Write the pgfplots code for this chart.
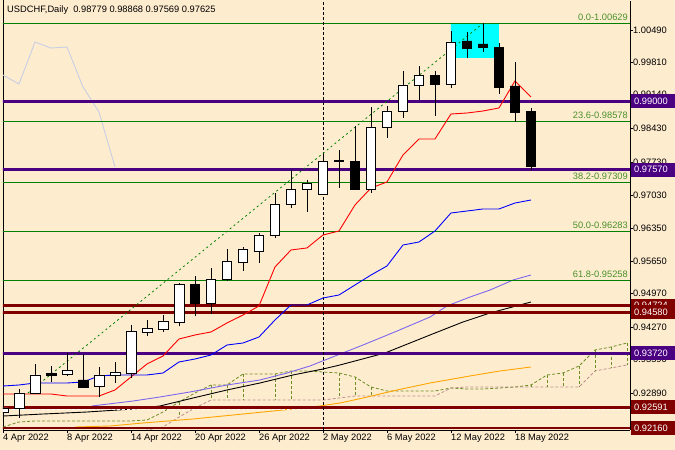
\documentclass[border=0pt]{standalone}
\usepackage{fontspec}
\setmainfont{Liberation Sans}
\usepackage{pgfplots}
\pgfplotsset{compat=1.18}
\definecolor{bg}{RGB}{254,236,207}
\definecolor{indig}{RGB}{75,0,130}
\definecolor{maroonc}{RGB}{128,0,0}
\definecolor{fibg}{RGB}{0,128,0}
\definecolor{fibt}{RGB}{70,145,40}
\definecolor{chik}{RGB}{200,206,228}
\definecolor{spana}{RGB}{107,142,35}
\definecolor{spanb}{RGB}{188,143,143}
\definecolor{lav}{RGB}{123,104,238}
\definecolor{orng}{RGB}{255,165,0}
\definecolor{cyanc}{RGB}{0,255,255}
\newcommand\lf{\fontsize{9.3}{10.5}\selectfont}
% candle: fill, index, left, right, open, high, low, close
\newcommand\cnd[8]{%
 \addplot[black, line width=0.9pt] coordinates {(#2,#7) (#2,#6)};
 \addplot[draw=black, fill=#1, line width=0.9pt] coordinates {(#3,#5) (#4,#5) (#4,#8) (#3,#8) (#3,#5)};}
\begin{document}
\begin{tikzpicture}
\useasboundingbox (0,0) rectangle (675pt,450pt);
\fill[bg] (0,0) rectangle (675pt,450pt);
\begin{axis}[
 at={(3pt,20pt)}, anchor=south west,
 scale only axis, width=627pt, height=429pt,
 xmin=0, xmax=39.19, ymin=0.921184, ymax=1.01097,
 axis x line*=bottom, axis y line*=right,
 axis line style={black, line width=0.8pt},
 xtick={0,4,...,32},
 xticklabels={4 Apr 2022,8 Apr 2022,14 Apr 2022,20 Apr 2022,26 Apr 2022,2 May 2022,6 May 2022,12 May 2022,18 May 2022},
 xticklabel style={anchor=north west, inner sep=0pt, font=\lf, yshift=-1pt},
 ytick={0.9289,0.9359,0.9427,0.9497,0.9565,0.9635,0.9703,0.9773,0.9843,0.9914,0.9981,1.0049},
 yticklabels={0.92890,0.93590,0.94270,0.94970,0.95650,0.96350,0.97030,0.97730,0.98430,0.99140,0.99810,1.00490},
 yticklabel style={anchor=west, inner sep=0pt, font=\lf},
 tick align=outside, major tick length=3pt, tick style={black, line width=0.6pt},
 clip=true,
]
% left border
\addplot[black, line width=0.8pt] coordinates {(0.03,0.915) (0.03,1.015)};
% cyan rectangle
\addplot[fill=cyanc, draw=none] coordinates {(28,0.99904) (31,0.99904) (31,1.00629) (28,1.00629) (28,0.99904)};
% chikou span
\addplot[chik, line width=0.9pt] coordinates {(0,0.99548) (1,0.99360) (2,1.00239) (3,1.00113) (4,1.00134) (5,0.99297) (6,0.98774) (7,0.97625)};
% cloud span A
\addplot[spana, line width=0.8pt, dash pattern=on 3pt off 2pt] coordinates {(0,0.92181) (1,0.92286) (2,0.92307) (3,0.92307) (4,0.92307) (5,0.92307) (6,0.92307) (7,0.92307) (8,0.92307) (9,0.92328) (10,0.92495) (11,0.92704) (12,0.92893) (13,0.93060) (14,0.93060) (15,0.93291) (16,0.93291) (17,0.93291) (18,0.93353) (19,0.93353) (20,0.93332) (21,0.93311) (22,0.93228) (23,0.93018) (24,0.92935) (25,0.92935) (26,0.92935) (27,0.92935) (28,0.92997) (29,0.92977) (30,0.92977) (31,0.92997) (32,0.93018) (33,0.93060) (34,0.93270) (35,0.93311) (36,0.93458) (37,0.93793) (38,0.93856) (39,0.93939)};
% cloud span B
\addplot[spanb, line width=0.8pt, dash pattern=on 3pt off 2pt] coordinates {(8,0.92000) (9,0.92118) (10,0.92181) (11,0.92390) (12,0.92579) (13,0.92746) (14,0.92746) (15,0.92746) (16,0.92746) (17,0.92746) (18,0.92746) (19,0.92746) (20,0.92746) (21,0.92788) (22,0.92830) (23,0.92830) (24,0.92830) (25,0.92830) (26,0.92830) (27,0.92830) (28,0.92997) (29,0.93018) (30,0.93018) (31,0.93018) (32,0.93018) (33,0.93018) (34,0.93018) (35,0.93018) (36,0.93018) (37,0.93353) (38,0.93416) (39,0.93479)};
% cloud hatching
\addplot[spana, line width=0.8pt, dash pattern=on 3pt off 2pt, unbounded coords=jump] coordinates {(11,0.92704) (11,0.92390) (11,nan) (13,0.93060) (13,0.92746) (13,nan) (14,0.93060) (14,0.92746) (14,nan) (15,0.93291) (15,0.92746) (15,nan) (17,0.93291) (17,0.92746) (17,nan) (18,0.93353) (18,0.92746) (18,nan) (20,0.93332) (20,0.92746) (20,nan) (21,0.93311) (21,0.92788) (21,nan) (22,0.93228) (22,0.92830) (22,nan) (23,0.93018) (23,0.92830) (23,nan) (33,0.93060) (33,0.93018) (33,nan) (34,0.93270) (34,0.93018) (34,nan) (35,0.93311) (35,0.93018) (35,nan) (36,0.93458) (36,0.93018) (36,nan) (37,0.93793) (37,0.93353) (37,nan) (38,0.93856) (38,0.93416) (38,nan) (39,0.93939) (39,0.93479)};
% moving averages
\addplot[lav, line width=0.9pt] coordinates {(5.56,0.92621) (8.13,0.92725) (9.81,0.92809) (11.69,0.92914) (14,0.93060) (16.06,0.93165) (17.75,0.93311) (19.19,0.93458) (20.44,0.93625) (22.5,0.93897) (24.63,0.94190) (26.69,0.94483) (27.75,0.94714) (29.19,0.94902) (30.44,0.95048) (31.88,0.95258) (33,0.95362)};
\addplot[black, line width=0.9pt] coordinates {(0,0.92411) (2.5,0.92453) (5.25,0.92495) (8.13,0.92558) (9.81,0.92621) (11.88,0.92788) (14,0.92956) (16.06,0.93102) (18.13,0.93270) (20,0.93395) (21.06,0.93479) (23.88,0.93730) (26.69,0.94107) (28.75,0.94379) (30.44,0.94567) (33,0.94797)};
\addplot[orng, line width=0.9pt] coordinates {(4.5,0.92181) (6.69,0.92202) (8.75,0.92265) (11.88,0.92349) (15,0.92453) (18.13,0.92558) (19.81,0.92621) (21.06,0.92683) (22.5,0.92788) (24.63,0.92956) (26.69,0.93102) (29.19,0.93249) (31.06,0.93353) (33,0.93437)};
% fibonacci levels
\addplot[fibg, line width=0.8pt] coordinates {(-1,1.00629) (41,1.00629)};
\addplot[fibg, line width=0.8pt] coordinates {(-1,0.98578) (41,0.98578)};
\addplot[fibg, line width=0.8pt] coordinates {(-1,0.97309) (41,0.97309)};
\addplot[fibg, line width=0.8pt] coordinates {(-1,0.96283) (41,0.96283)};
\addplot[fibg, line width=0.8pt] coordinates {(-1,0.95258) (41,0.95258)};
% horizontal levels
\addplot[indig, line width=2.8pt] coordinates {(-1,0.99000) (41,0.99000)};
\addplot[indig, line width=2.8pt] coordinates {(-1,0.97570) (41,0.97570)};
\addplot[indig, line width=2.8pt] coordinates {(-1,0.93720) (41,0.93720)};
\addplot[maroonc, line width=2.6pt] coordinates {(-1,0.94724) (41,0.94724)};
\addplot[maroonc, line width=2.6pt] coordinates {(-1,0.94580) (41,0.94580)};
\addplot[maroonc, line width=3pt] coordinates {(-1,0.92591) (41,0.92591)};
\addplot[white, line width=0.9pt, dash pattern=on 3pt off 2pt] coordinates {(-1,0.92548) (41,0.92548)};
\addplot[maroonc, line width=2.6pt] coordinates {(-1,0.92160) (41,0.92160)};
% vertical line
\addplot[black, line width=0.8pt, dash pattern=on 3pt off 2pt] coordinates {(20,0.915) (20,1.015)};
% fibonacci trend line
\addplot[fibg, line width=0.8pt, dash pattern=on 2pt off 3pt] coordinates {(1.56,0.92893) (30,1.00629)};
% tenkan / kijun
\addplot[red, line width=0.9pt] coordinates {(0,0.92872) (1,0.92872) (2,0.92872) (3,0.92872) (4,0.92830) (5,0.92830) (6,0.92830) (7,0.92956) (8,0.93228) (9,0.93500) (10,0.93667) (11,0.94023) (12,0.94107) (13,0.94170) (14,0.94358) (15,0.94525) (16,0.94714) (17,0.95530) (18,0.95886) (19,0.95928) (20,0.96200) (21,0.96283) (22,0.96828) (23,0.97183) (24,0.97309) (25,0.97874) (26,0.98209) (27,0.98209) (28,0.98732) (29,0.98753) (30,0.98795) (31,0.98858) (32,0.99423) (33,0.99088)};
\addplot[blue, line width=0.9pt] coordinates {(0,0.93039) (1,0.93060) (2,0.93102) (3,0.93102) (4,0.93102) (5,0.93123) (6,0.93249) (7,0.93270) (8,0.93270) (9,0.93270) (10,0.93311) (11,0.93542) (12,0.93604) (13,0.93688) (14,0.93897) (15,0.93939) (16,0.94065) (17,0.94421) (18,0.94735) (19,0.94735) (20,0.94881) (21,0.94944) (22,0.95153) (23,0.95362) (24,0.95551) (25,0.95990) (26,0.96053) (27,0.96283) (28,0.96660) (29,0.96702) (30,0.96744) (31,0.96744) (32,0.96869) (33,0.96932)};
% candles: fill, i, left, right, O, H, L, C
\cnd{white}{0}{-0.31}{0.31}{0.92495}{0.92746}{0.92411}{0.92579}
\cnd{white}{1}{0.69}{1.31}{0.92579}{0.92977}{0.92370}{0.92893}
\cnd{white}{2}{1.69}{2.31}{0.92893}{0.93500}{0.92872}{0.93270}
\cnd{black}{3}{2.69}{3.31}{0.93311}{0.93458}{0.93123}{0.93270}
\cnd{white}{4}{3.69}{4.31}{0.93291}{0.93730}{0.93249}{0.93374}
\cnd{black}{5}{4.69}{5.31}{0.93165}{0.93709}{0.92997}{0.93018}
\cnd{white}{6}{5.69}{6.31}{0.93039}{0.93437}{0.92809}{0.93270}
\cnd{white}{7}{6.69}{7.31}{0.93270}{0.93542}{0.93102}{0.93332}
\cnd{white}{8}{7.69}{8.31}{0.93311}{0.94316}{0.93207}{0.94190}
\cnd{white}{9}{8.69}{9.31}{0.94170}{0.94421}{0.94086}{0.94253}
\cnd{white}{10}{9.69}{10.31}{0.94232}{0.94525}{0.94170}{0.94400}
\cnd{white}{11}{10.69}{11.31}{0.94379}{0.95195}{0.94295}{0.95174}
\cnd{black}{12}{11.69}{12.31}{0.95174}{0.95342}{0.94504}{0.94776}
\cnd{white}{13}{12.69}{13.31}{0.94776}{0.95509}{0.94546}{0.95279}
\cnd{white}{14}{13.69}{14.31}{0.95279}{0.95907}{0.95237}{0.95655}
\cnd{white}{15}{14.69}{15.31}{0.95634}{0.95948}{0.95446}{0.95907}
\cnd{white}{16}{15.69}{16.31}{0.95865}{0.96241}{0.95614}{0.96200}
\cnd{white}{17}{16.69}{17.31}{0.96200}{0.97079}{0.96137}{0.96848}
\cnd{white}{18}{17.69}{18.31}{0.96848}{0.97560}{0.96765}{0.97162}
\cnd{white}{19}{18.69}{19.31}{0.97162}{0.97351}{0.96681}{0.97288}
\cnd{white}{20}{19.69}{20.31}{0.97058}{0.97874}{0.97037}{0.97748}
\cnd{white}{21}{20.69}{21.31}{0.97748}{0.97979}{0.97183}{0.97769}
\cnd{black}{22}{21.69}{22.31}{0.97748}{0.98481}{0.97141}{0.97162}
\cnd{white}{23}{22.69}{23.31}{0.97162}{0.98879}{0.97079}{0.98460}
\cnd{white}{24}{23.69}{24.31}{0.98460}{0.98899}{0.98230}{0.98795}
\cnd{white}{25}{24.69}{25.31}{0.98795}{0.99632}{0.98648}{0.99339}
\cnd{white}{26}{25.69}{26.31}{0.99339}{0.99737}{0.99025}{0.99548}
\cnd{black}{27}{26.69}{27.31}{0.99548}{0.99632}{0.98690}{0.99360}
\cnd{white}{28}{27.69}{28.31}{0.99360}{1.00469}{0.99276}{1.00239}
\cnd{black}{29}{28.69}{29.31}{1.00260}{1.00448}{0.99904}{1.00113}
\cnd{black}{30}{29.69}{30.31}{1.00197}{1.00629}{1.00030}{1.00134}
\cnd{black}{31}{30.69}{31.31}{1.00134}{1.00218}{0.99151}{0.99297}
\cnd{black}{32}{31.69}{32.31}{0.99318}{0.99820}{0.98565}{0.98774}
\cnd{black}{33}{32.69}{33.31}{0.98779}{0.98868}{0.97569}{0.97625}
% texts
\node[anchor=north west, inner sep=0pt, font=\lf, xshift=4pt, yshift=-5pt] at (rel axis cs:0,1) {USDCHF,Daily\ \ 0.98779 0.98868 0.97569 0.97625};
\node[anchor=south east, inner sep=0pt, font=\lf, text=fibt, xshift=-2pt, yshift=2.5pt] at (axis cs:39.19,1.00629) {0.0-1.00629};
\node[anchor=south east, inner sep=0pt, font=\lf, text=fibt, xshift=-2pt, yshift=2.5pt] at (axis cs:39.19,0.98578) {23.6-0.98578};
\node[anchor=south east, inner sep=0pt, font=\lf, text=fibt, xshift=-2pt, yshift=2.5pt] at (axis cs:39.19,0.97309) {38.2-0.97309};
\node[anchor=south east, inner sep=0pt, font=\lf, text=fibt, xshift=-2pt, yshift=2.5pt] at (axis cs:39.19,0.96283) {50.0-0.96283};
\node[anchor=south east, inner sep=0pt, font=\lf, text=fibt, xshift=-2pt, yshift=2.5pt] at (axis cs:39.19,0.95258) {61.8-0.95258};
\coordinate (La) at (axis cs:39.19,0.99000);
\coordinate (Lb) at (axis cs:39.19,0.97570);
\coordinate (Lc) at (axis cs:39.19,0.94724);
\coordinate (Ld) at (axis cs:39.19,0.94580);
\coordinate (Le) at (axis cs:39.19,0.93720);
\coordinate (Lf) at (axis cs:39.19,0.92591);
\coordinate (Lg) at (axis cs:39.19,0.92160);
\end{axis}
\tikzset{pl/.style={anchor=west, inner xsep=3pt, inner ysep=0pt, minimum height=14pt, text width=38pt, align=left, text=white, font=\lf, xshift=1pt}}
\node[pl, fill=indig] at (La) {0.99000};
\node[pl, fill=indig] at (Lb) {0.97570};
\node[pl, fill=maroonc] at (Lc) {0.94724};
\node[pl, fill=maroonc] at (Ld) {0.94580};
\node[pl, fill=indig] at (Le) {0.93720};
\node[pl, fill=maroonc] at (Lf) {0.92591};
\node[pl, fill=maroonc] at (Lg) {0.92160};
\end{tikzpicture}
\end{document}
